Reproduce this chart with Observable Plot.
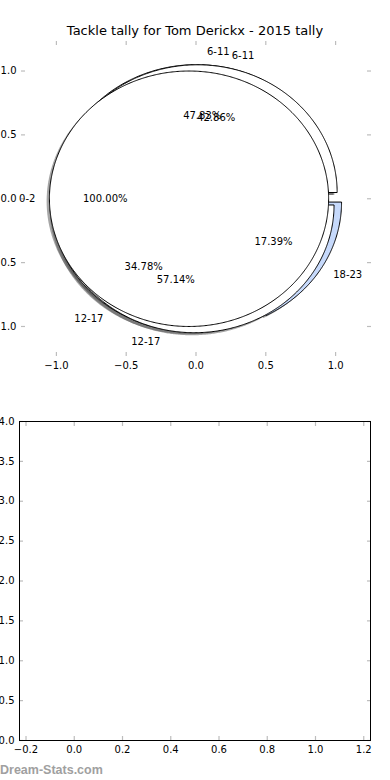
<!DOCTYPE html>
<html>
<head>
<meta charset="utf-8">
<script src="https://cdn.jsdelivr.net/npm/d3@7"></script>
<script src="https://cdn.jsdelivr.net/npm/@observablehq/plot@0.6"></script>
<style>
  body { margin: 0; background: #fff; }
  #wrap { position: relative; width: 390px; height: 780px; overflow: hidden; font-family: "DejaVu Sans", sans-serif; background: #fff; }
  #top, #bottom { position: absolute; left: 0; }
  #top { top: 0; }
  #bottom { top: 390px; }
  #title { position: absolute; left: 0; width: 390px; top: 22.7px; text-align: center; font-size: 13px; line-height: 15px; color: #000; white-space: nowrap; }
  #mark { position: absolute; left: 0; top: 763px; font-family: "Liberation Sans", Arial, sans-serif; font-weight: bold; font-size: 12.5px; line-height: 14px; color: #a0a0a0; }
</style>
</head>
<body>
<div id="wrap">
  <div id="top"></div>
  <div id="bottom"></div>
  <div id="title">Tackle tally for Tom Derickx - 2015 tally</div>
  <div id="mark">Dream-Stats.com</div>
</div>
<script>
// ---- data ----
const chartTitle = "Tackle tally for Tom Derickx - 2015 tally";
// three pies drawn on top of each other (drawing order)
const pieALabels = ["6-11", "12-17", "18-23"];
const pieAValues = [11, 8, 4];
const pieBLabels = ["6-11", "12-17"];
const pieBValues = [3, 4];
const pieCLabels = ["0-2"];
const pieCValues = [1];
const ageGroups = ["0-2", "6-11", "12-17", "18-23"];
const ageColors = ["#ffffff", "#ffffff", "#ffffff", "#c6d9fb"];
const explodeAmount = 0.05;
const pieXTicks = [-1.0, -0.5, 0.0, 0.5, 1.0];
const pieYTicks = [-1.0, -0.5, 0.0, 0.5, 1.0];
const emptyXTicks = [-0.2, 0.0, 0.2, 0.4, 0.6, 0.8, 1.0, 1.2];
const emptyYTicks = [0.0, 0.5, 1.0, 1.5, 2.0, 2.5, 3.0, 3.5, 4.0];

// ---- build wedges from data ----
const pies = [[pieALabels, pieAValues], [pieBLabels, pieBValues], [pieCLabels, pieCValues]];
const wedgePts = [];
const labelPts = [];
const pctPts = [];
let wid = 0;
pies.forEach(([labels, values]) => {
  const total = d3.sum(values);
  let a0 = 0;
  values.forEach((v, i) => {
    const frac = v / total;
    const a1 = a0 + 360 * frac;
    const mid = (a0 + a1) / 2 * Math.PI / 180;
    const cx = explodeAmount * Math.cos(mid);
    const cy = explodeAmount * Math.sin(mid);
    const color = ageColors[ageGroups.indexOf(labels[i])];
    const id = wid++;
    const full = Math.abs(a1 - a0 - 360) < 1e-9;
    if (!full) wedgePts.push({id, x: cx, y: cy, color});
    const n = Math.max(2, Math.ceil((a1 - a0) / 0.5));
    for (let k = 0; k <= n; k++) {
      const t = (a0 + (a1 - a0) * k / n) * Math.PI / 180;
      wedgePts.push({id, x: cx + Math.cos(t), y: cy + Math.sin(t), color});
    }
    if (!full) wedgePts.push({id, x: cx, y: cy, color});
    labelPts.push({text: labels[i], x: cx + 1.1 * Math.cos(mid), y: cy + 1.1 * Math.sin(mid)});
    pctPts.push({text: (frac * 100).toFixed(2) + "%", x: cx + 0.6 * Math.cos(mid), y: cy + 0.6 * Math.sin(mid)});
    a0 = a1;
  });
});

const fmt = d3.format(".1f");
const tickGray = "#bdbdbd";
const baseStyle = {fontFamily: "DejaVu Sans", fontSize: "10px", background: "transparent", overflow: "visible"};
const noText = () => "";

function tickAxes(xt, yt) {
  return [
    Plot.axisX(xt, {anchor: "bottom", label: null, tickSize: 0, tickPadding: 5, tickFormat: fmt, fill: "#000"}),
    Plot.axisY(yt, {anchor: "left", label: null, tickSize: 0, tickPadding: 5, tickFormat: fmt, fill: "#000"}),
    Plot.axisX(xt, {anchor: "bottom", label: null, tickSize: 4, dy: -4, tickFormat: noText, stroke: tickGray, strokeWidth: 1.2}),
    Plot.axisX(xt, {anchor: "top", label: null, tickSize: 4, dy: 4, tickFormat: noText, stroke: tickGray, strokeWidth: 1.2}),
    Plot.axisY(yt, {anchor: "left", label: null, tickSize: 4, dx: 4, tickFormat: noText, stroke: tickGray, strokeWidth: 1.2}),
    Plot.axisY(yt, {anchor: "right", label: null, tickSize: 4, dx: -4, tickFormat: noText, stroke: tickGray, strokeWidth: 1.2})
  ];
}

const topPlot = Plot.plot({
  width: 390, height: 390,
  marginTop: 40, marginBottom: 34, marginLeft: 21, marginRight: 20,
  style: baseStyle,
  x: {domain: [-1.25, 1.25], axis: null},
  y: {domain: [-1.235, 1.239], axis: null},
  color: {type: "identity"},
  marks: [
    ...tickAxes(pieXTicks, pieYTicks),
    Plot.line(wedgePts, {x: d => d.x - 0.02, y: d => d.y - 0.02, z: "id", fill: "#4d4d4d", fillOpacity: 0.5, stroke: null}),
    Plot.line(wedgePts, {x: "x", y: "y", z: "id", fill: "color", stroke: "#000", strokeWidth: 1, strokeLinejoin: "miter", strokeLinecap: "butt"}),
    Plot.text(labelPts, {filter: d => d.x > 0, x: "x", y: "y", text: "text", textAnchor: "start", lineAnchor: "middle", fill: "#000", fontSize: 10}),
    Plot.text(labelPts, {filter: d => d.x <= 0, x: "x", y: "y", text: "text", textAnchor: "end", lineAnchor: "middle", fill: "#000", fontSize: 10}),
    Plot.text(pctPts, {x: "x", y: "y", text: "text", textAnchor: "middle", lineAnchor: "middle", fill: "#000", fontSize: 10})
  ]
});
document.getElementById("top").appendChild(topPlot);

const bottomPlot = Plot.plot({
  width: 390, height: 390,
  marginTop: 31, marginBottom: 40, marginLeft: 19, marginRight: 20,
  style: baseStyle,
  x: {domain: [-0.227, 1.228], axis: null},
  y: {domain: [0, 4], axis: null},
  marks: [
    ...tickAxes(emptyXTicks, emptyYTicks),
    Plot.frame({stroke: "#000", strokeWidth: 1})
  ]
});
document.getElementById("bottom").appendChild(bottomPlot);
</script>
</body>
</html>
